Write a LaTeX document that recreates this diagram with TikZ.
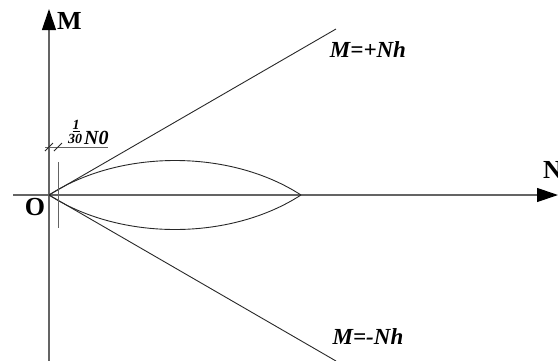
\documentclass[tikz,border=0pt]{standalone}
\usepackage{fontspec}
\setmainfont{Liberation Serif}
\usetikzlibrary{arrows.meta,positioning,calc}
\definecolor{axgray}{RGB}{100,100,100}
\definecolor{lngray}{RGB}{40,40,40}

\begin{document}
\begin{tikzpicture}[x=1pt,y=-1pt,
  axis/.style={draw=axgray,line width=1.2pt,-{Triangle[length=21pt,width=14pt,color=black]}},
  ln/.style={draw=lngray,line width=0.9pt},
  lbl/.style={inner sep=0pt,font=\fontsize{26}{28}\selectfont\bfseries},
  eq/.style={inner sep=0pt,font=\fontsize{23}{26}\selectfont\bfseries\itshape},
  frac/.style={inner sep=0pt,font=\fontsize{14}{16}\selectfont\bfseries\itshape}]
\useasboundingbox (0,0) rectangle (558,360);
% axes
\coordinate (O) at (49,195);
\coordinate (ybot) at (49,362);
\coordinate (ytop) at (49,9);
\coordinate (xl) at (13,195);
\coordinate (xr) at (558,195);
\draw[axis] (ybot) -- (ytop);
\draw[axis] (xl) -- (xr);
\node[lbl,anchor=west] (mlab) at (57,21) {M};
\node[lbl,anchor=west] (nlab) at (543,170) {N};
\node[lbl] (olab) at (35,207) {O};
% lines M=+Nh and M=-Nh
\coordinate (up) at (336,29);
\coordinate (dn) at (336,361);
\draw[ln] (O) -- (up);
\draw[ln] (O) -- (dn);
\node[eq] (plus) at (368,50) {M=+Nh};
\node[eq] (minus) at (368,337) {M=-Nh};
% lens
\coordinate (apex) at (301,195);
\draw[ln] (O) .. controls (120,149) and (230,149) .. (apex);
\draw[ln] (O) .. controls (120,241) and (230,241) .. (apex);
% offset 1/30 N0
\coordinate (e1) at (58,162);
\coordinate (e2) at (58,228);
\draw[ln,axgray] (e1) -- (e2);
\coordinate (d1) at (45,147);
\coordinate (d2) at (108,147);
\draw[ln,axgray] (d1) -- (d2);
\draw[ln] ($(49,147)+(-4,4)$) -- ($(49,147)+(4,-4)$);
\draw[ln] ($(58,147)+(-4,4)$) -- ($(58,147)+(4,-4)$);
\node[frac] (one) at (76,126) {\underline{1}};
\node[frac,anchor=west] (thirty) at (68,139) {30};
\node[frac,font=\fontsize{20}{22}\selectfont\bfseries\itshape,anchor=west] (nnull) at (84,138) {N0};
\end{tikzpicture}
\end{document}
